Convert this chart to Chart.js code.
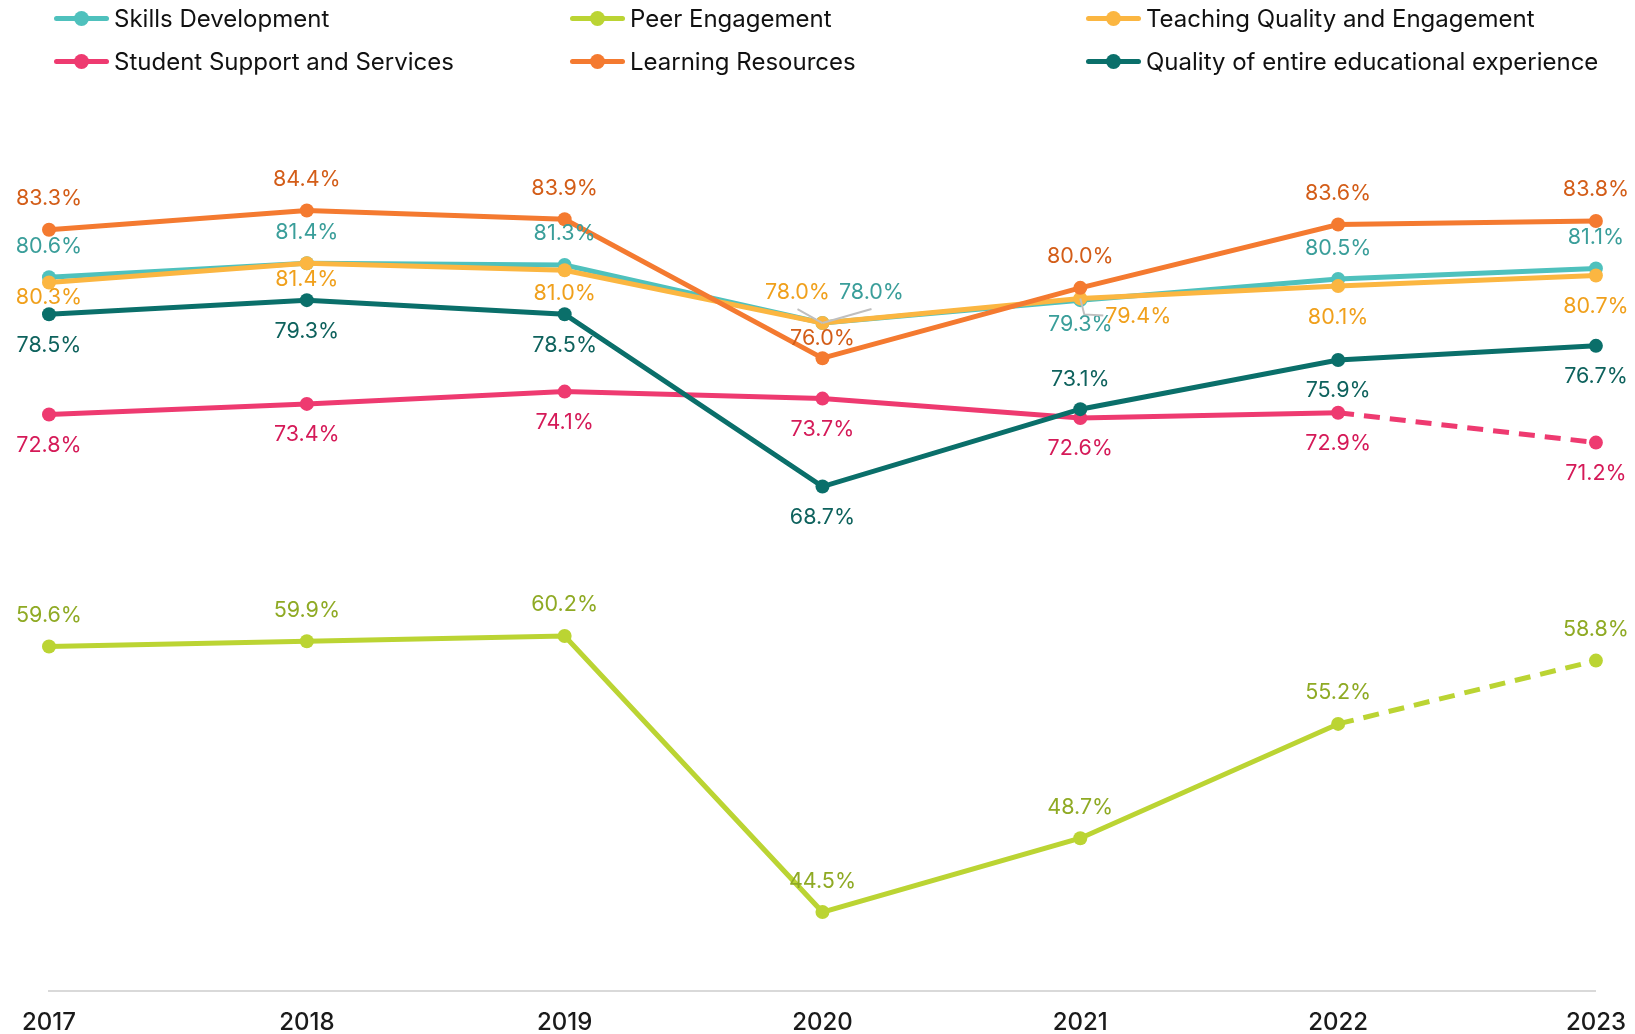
<!DOCTYPE html>
<html>
<head>
<meta charset="utf-8">
<script src="https://cdn.jsdelivr.net/npm/chart.js@4/dist/chart.umd.min.js"></script>
<style>
  html, body { margin: 0; padding: 0; background: #fff; overflow: hidden; }
  #wrap { position: relative; width: 1635px; height: 1034px; overflow: hidden; }
  #chart { position: absolute; left: 0; top: 0; }
  .leg { position: absolute; height: 30px; font-family: Inter, "Noto Sans", sans-serif; font-size: 24px; color: #111; white-space: nowrap; }
  .leg .mk { position: absolute; left: 0; top: 12px; width: 55px; height: 5px; border-radius: 3px; }
  .leg .mk i { position: absolute; left: 20px; top: -5px; width: 15px; height: 15px; border-radius: 50%; }
  .leg span { position: absolute; left: 60px; top: 0; line-height: 30px; }
</style>
</head>
<body>
<div id="wrap">
  <canvas id="chart" width="1643" height="1054"></canvas>
  <div id="legend"></div>
</div>
<script>
// data
const years = ['2017', '2018', '2019', '2020', '2021', '2022', '2023'];
const skillsDev = [80.6, 81.4, 81.3, 78.0, 79.3, 80.5, 81.1];
const peerEngagement = [59.6, 59.9, 60.2, 44.5, 48.7, 55.2, 58.8];
const teachingQuality = [80.3, 81.4, 81.0, 78.0, 79.4, 80.1, 80.7];
const studentSupport = [72.8, 73.4, 74.1, 73.7, 72.6, 72.9, 71.2];
const learningResources = [83.3, 84.4, 83.9, 76.0, 80.0, 83.6, 83.8];
const overallQuality = [78.5, 79.3, 78.5, 68.7, 73.1, 75.9, 76.7];

// last segment is dashed for these two series
const dashLast = ctx => ctx.p1DataIndex === years.length - 1 ? [16, 10] : undefined;

const series = [
  { label: 'Skills Development', data: skillsDev, color: '#4FC1BD', text: '#3A9E9A', order: 6,
    offsets: [[0,-31],[0,-31],[0,-31],[49,-30],[0,24],[0,-31],[0,-31]], leaders: {3: 'label'} },
  { label: 'Peer Engagement', data: peerEngagement, color: '#BBD433', text: '#8FAA24', order: 5, dashed: true,
    offsets: [[0,-31],[0,-31],[0,-31],[0,-31],[0,-31],[0,-31],[0,-31]] },
  { label: 'Teaching Quality and Engagement', data: teachingQuality, color: '#FBB641', text: '#F0A01C', order: 4,
    offsets: [[0,15],[0,16],[0,23],[-25,-30],[58,18],[0,31],[0,31]], leaders: {3: 'label', 4: 'elbow'} },
  { label: 'Student Support and Services', data: studentSupport, color: '#EE3A70', text: '#D51A58', order: 3, dashed: true,
    offsets: [[0,31],[0,31],[0,31],[0,31],[0,31],[0,31],[0,31]] },
  { label: 'Learning Resources', data: learningResources, color: '#F47A30', text: '#D35D18', order: 2,
    offsets: [[0,-31],[0,-31],[0,-31],[0,-20],[0,-31],[0,-31],[0,-31]] },
  { label: 'Quality of entire educational experience', data: overallQuality, color: '#0A6F6A', text: '#0E625D', order: 1,
    offsets: [[0,31],[0,31],[0,31],[0,31],[0,-30],[0,31],[0,31]] }
];

// legend, 3 columns x 2 rows
const legCols = [54, 570, 1086];
const legRows = [4, 47];
const legend = document.getElementById('legend');
series.forEach((s, i) => {
  const d = document.createElement('div');
  d.className = 'leg';
  d.style.left = legCols[i % 3] + 'px';
  d.style.top = legRows[Math.floor(i / 3)] + 'px';
  d.innerHTML = '<div class="mk" style="background:' + s.color + '"><i style="background:' + s.color + '"></i></div><span>' + s.label + '</span>';
  legend.appendChild(d);
});

const labelPlugin = {
  id: 'valueLabels',
  afterDatasetsDraw(chart) {
    const ctx = chart.ctx;
    ctx.save();
    ctx.font = '21.5px Inter, "Noto Sans", sans-serif';
    ctx.textAlign = 'center';
    ctx.textBaseline = 'middle';
    chart.data.datasets.forEach((ds, i) => {
      const meta = chart.getDatasetMeta(i);
      meta.data.forEach((pt, j) => {
        const off = ds.offsets[j];
        const txt = ds.data[j].toFixed(1) + '%';
        const lx = pt.x + off[0], ly = pt.y + off[1];
        const lead = ds.leaders && ds.leaders[j];
        if (lead) {
          ctx.strokeStyle = '#BFBFBF';
          ctx.lineWidth = 2;
          ctx.beginPath();
          ctx.moveTo(pt.x, pt.y);
          if (lead === 'label') {
            ctx.lineTo(lx, ly + 16);
          } else {
            const w = ctx.measureText(txt).width;
            ctx.lineTo(pt.x + 4, ly - 2);
            ctx.lineTo(lx - w / 2 - 2, ly - 1);
          }
          ctx.stroke();
        }
        ctx.fillStyle = ds.textColor;
        ctx.fillText(txt, lx, ly);
      });
    });
    ctx.restore();
  }
};

new Chart(document.getElementById('chart'), {
  type: 'line',
  data: {
    labels: years,
    datasets: series.map(s => ({
      label: s.label,
      data: s.data,
      borderColor: s.color,
      backgroundColor: s.color,
      pointBackgroundColor: s.color,
      pointBorderColor: s.color,
      borderWidth: 5,
      pointRadius: 7,
      pointBorderWidth: 0,
      tension: 0,
      order: s.order,
      segment: s.dashed ? { borderDash: dashLast } : undefined,
      textColor: s.text,
      offsets: s.offsets,
      leaders: s.leaders
    }))
  },
  options: {
    responsive: false,
    animation: false,
    layout: { padding: { left: 49, right: 34, top: 112, bottom: 0 } },
    plugins: {
      legend: { display: false },
      tooltip: { enabled: false }
    },
    scales: {
      x: {
        offset: false,
        grid: { display: false, drawTicks: false },
        border: { display: true, color: '#D9D9D9', width: 2 },
        ticks: {
          color: '#1A1A1A',
          padding: 17,
          maxRotation: 0,
          font: { family: 'Inter, "Noto Sans", sans-serif', size: 24, weight: '500' }
        }
      },
      y: {
        display: false,
        min: 40,
        max: 90
      }
    }
  },
  plugins: [labelPlugin]
});
</script>
</body>
</html>
